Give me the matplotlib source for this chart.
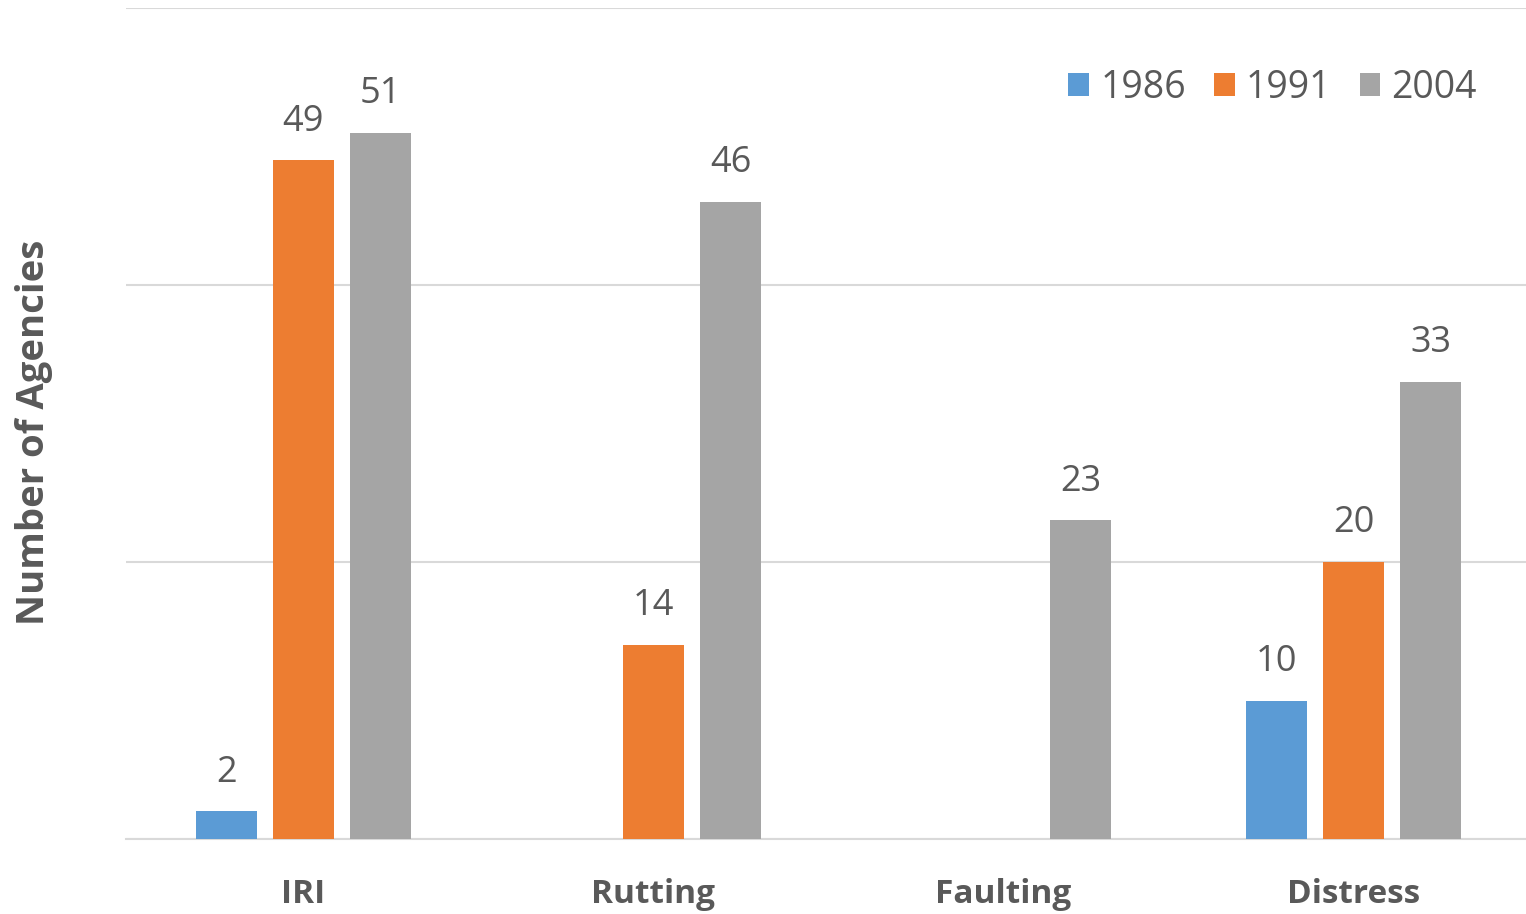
import numpy as np
import matplotlib.pyplot as plt

plt.rcParams['font.family'] = ['Open Sans', 'DejaVu Sans']

categories = ['IRI', 'Rutting', 'Faulting', 'Distress']
years = ['1986', '1991', '2004']
v1986 = [2, None, None, 10]
v1991 = [49, 14, None, 20]
v2004 = [51, 46, 23, 33]
colors = ['#5B9BD5', '#ED7D31', '#A5A5A5']
txt = '#595959'

fig = plt.figure(figsize=(15.26, 9.14), dpi=100)
ax = fig.add_axes([126 / 1526, 75 / 914, 1400 / 1526, 831 / 914])

x = np.arange(len(categories)) + 0.007
w = 0.174
step = 0.22
for i, (vals, yr) in enumerate(zip([v1986, v1991, v2004], years)):
    h = [v if v is not None else 0 for v in vals]
    pos = x + (i - 1) * step
    ax.bar(pos, h, width=w, color=colors[i], label=yr, zorder=3)
    for p, v in zip(pos, vals):
        if v is not None:
            ax.text(p, v + 1.5, str(v), ha='center', va='bottom',
                    fontsize=26, color=txt)

ax.set_xlim(-0.5, 3.5)
ax.set_ylim(0, 60)
ax.set_yticks([0, 20, 40, 60])
ax.yaxis.grid(True, color='#D9D9D9', linewidth=1.5, zorder=0)
ax.tick_params(axis='y', left=False, labelleft=False)
ax.tick_params(axis='x', length=0, pad=28)
ax.set_xticks(x)
ax.set_xticklabels(categories, fontsize=24, fontweight='bold', color=txt)
for s in ['top', 'right', 'left']:
    ax.spines[s].set_visible(False)
ax.spines['bottom'].set_color('#D9D9D9')
ax.spines['bottom'].set_linewidth(1.5)
ax.set_axisbelow(True)

fig.text(0.022, 0.527, 'Number of Agencies', rotation=90, ha='center', va='center',
         fontsize=27.5, fontweight='bold', color=txt)

leg = ax.legend(loc='center right', bbox_to_anchor=(0.965, 0.904), ncol=3, frameon=False,
                fontsize=27, handlelength=0.55, handleheight=0.55, handletextpad=0.3,
                columnspacing=0.75, labelcolor=txt, borderpad=0, borderaxespad=0)

fig.savefig('out.png', dpi=100)
